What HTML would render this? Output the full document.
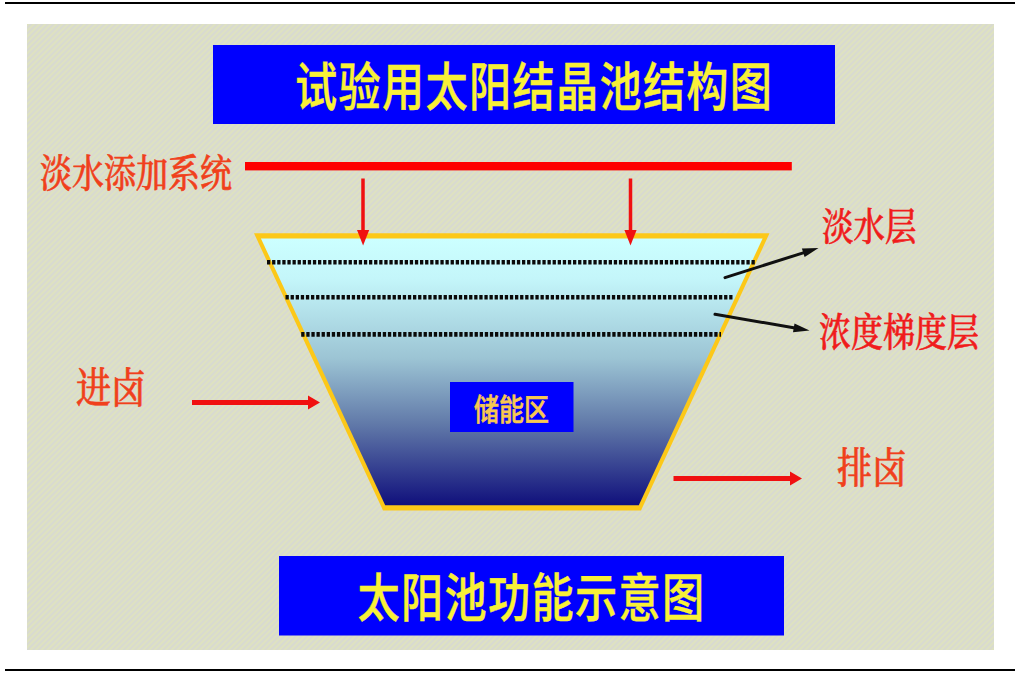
<!DOCTYPE html>
<html lang="zh-CN">
<head>
<meta charset="utf-8">
<title>试验用太阳结晶池结构图</title>
<style>
html,body{margin:0;padding:0;background:#fff;overflow:hidden;}
body{width:1023px;height:675px;position:relative;}
svg{position:absolute;left:0;top:0;display:block;}
.hei{font-family:"Liberation Sans","Noto Sans CJK SC",sans-serif;font-weight:500;}
.song{font-family:"Liberation Serif","Noto Serif CJK SC",serif;font-weight:500;stroke-width:0.5;stroke-linejoin:round;}
</style>
</head>
<body>
<svg width="1023" height="675" viewBox="0 0 1023 675">
  <defs>
    <pattern id="hatch" width="4" height="4" patternUnits="userSpaceOnUse" patternTransform="rotate(-45)">
      <rect width="4" height="4" fill="#d7d8d3"/>
      <rect width="4" height="2" fill="#e0e4bd"/>
    </pattern>
    <linearGradient id="pool" x1="0" y1="0" x2="0" y2="1">
      <stop offset="0" stop-color="#ccffff"/>
      <stop offset="0.15" stop-color="#c4f6fa"/>
      <stop offset="0.45" stop-color="#9cc4d4"/>
      <stop offset="0.7" stop-color="#6078a8"/>
      <stop offset="1" stop-color="#10107c"/>
    </linearGradient>
  </defs>
  <!-- page rules -->
  <rect x="5" y="2" width="1010" height="2" fill="#000"/>
  <rect x="5" y="669" width="1010" height="2" fill="#000"/>
  <!-- figure background -->
  <rect x="27" y="24" width="967" height="626" fill="#dbddc9"/>
  <rect x="27" y="24" width="967" height="626" fill="url(#hatch)" opacity="0.65"/>

  <!-- title box -->
  <rect x="213" y="45" width="622" height="79" fill="#0000fe"/>
  <text class="hei" x="0" y="0" font-size="42.2" letter-spacing="1.3" fill="#f8f038" stroke="#f8f038" stroke-width="0.3" transform="translate(295 105.6) scale(1 1.25)">试验用太阳结晶池结构图</text>

  <!-- fresh water line -->
  <rect x="245" y="162" width="546.8" height="8.4" fill="#fe0000"/>
  <text class="song" font-size="32" fill="#f0401c" stroke="#f0401c" transform="translate(40 187) scale(1 1.2)">淡水添加系统</text>

  <!-- pool -->
  <polygon points="254,233.3 769.5,233.3 641,510.4 383,510.4" fill="#fcc818"/>
  <polygon points="260.9,238.4 762.6,238.4 638.8,505.2 385.2,505.2" fill="url(#pool)"/>

  <!-- dotted layers -->
  <g stroke="#0a0a0a" stroke-width="4.6" stroke-dasharray="3.3 1.8" fill="none">
    <line x1="267" y1="262.2" x2="756.5" y2="262.2"/>
    <line x1="285.5" y1="297.3" x2="733" y2="297.3"/>
    <line x1="301.2" y1="334.4" x2="721" y2="334.4"/>
  </g>

  <!-- down arrows -->
  <g fill="#f01010">
    <rect x="361.25" y="178.5" width="3.5" height="53"/>
    <polygon points="357,230 369.2,230 363.1,245.5"/>
    <rect x="628.75" y="178.5" width="3.5" height="53"/>
    <polygon points="624.4,230 636.6,230 630.5,245.5"/>
  </g>

  <!-- storage zone -->
  <rect x="450" y="382" width="123.5" height="50" fill="#0000fe"/>
  <text class="hei" font-size="25" fill="#f8c850" stroke="#f8c850" stroke-width="0.5" text-anchor="middle" transform="translate(511.5 419.7) scale(1 1.17)">储能区</text>

  <!-- black arrows -->
  <g stroke="#101010" stroke-width="3" stroke-linecap="round" fill="#101010">
    <line x1="725" y1="277.6" x2="804" y2="252.6"/>
    <line x1="715" y1="314.3" x2="795" y2="328"/>
  </g>
  <polygon points="818.5,248 804.6,257.1 801.9,248.6" fill="#101010"/>
  <polygon points="809.5,330.5 793,332.2 794.5,323.4" fill="#101010"/>

  <text class="song" font-size="31.5" fill="#f01c1c" stroke="#f01c1c" transform="translate(822 240) scale(1 1.2)">淡水层</text>
  <text class="song" font-size="32" fill="#f01c1c" stroke="#f01c1c" transform="translate(819 346) scale(1 1.2)">浓度梯度层</text>

  <!-- inlet -->
  <text class="song" font-size="35" fill="#f0401c" stroke="#f0401c" transform="translate(76 403.3) scale(1 1.2)">进卤</text>
  <g fill="#f01010">
    <rect x="192" y="400" width="118" height="5"/>
    <polygon points="308,395.5 320,402.5 308,409.5"/>
  </g>
  <!-- outlet -->
  <text class="song" font-size="35" fill="#f0401c" stroke="#f0401c" transform="translate(837 482.8) scale(1 1.2)">排卤</text>
  <g fill="#f01010">
    <rect x="673.5" y="476" width="118" height="5"/>
    <polygon points="790,471.5 802,478.5 790,485.5"/>
  </g>

  <!-- caption box -->
  <rect x="279" y="556" width="505" height="79.5" fill="#0000fe"/>
  <text class="hei" font-size="42.2" letter-spacing="1.3" fill="#f8f038" stroke="#f8f038" stroke-width="0.3" transform="translate(357.6 617) scale(1 1.25)">太阳池功能示意图</text>
</svg>
</body>
</html>
